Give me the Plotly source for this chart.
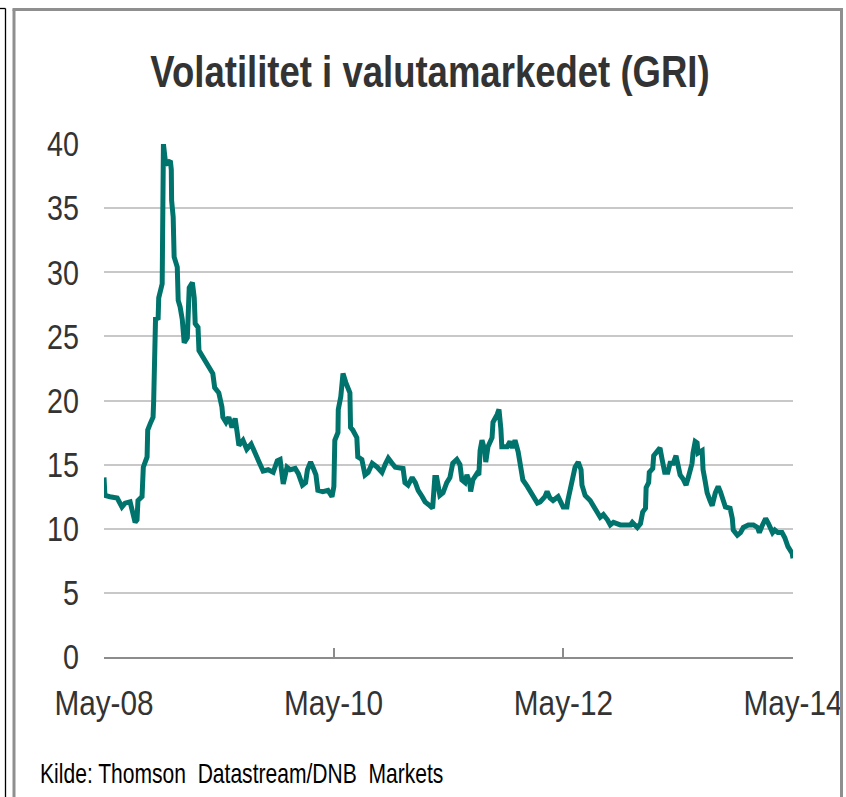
import plotly.graph_objects as go

dates = [
    "2008-05-01", "2008-05-04", "2008-05-20", "2008-06-12", "2008-06-27", "2008-07-07", "2008-07-23",
    "2008-07-29", "2008-08-08", "2008-08-14", "2008-08-17", "2008-08-30", "2008-09-03", "2008-09-15",
    "2008-09-17", "2008-09-25", "2008-10-04", "2008-10-06", "2008-10-08", "2008-10-11", "2008-10-12",
    "2008-10-20", "2008-10-22", "2008-11-02", "2008-11-06", "2008-11-12", "2008-11-18", "2008-11-28",
    "2008-12-01", "2008-12-02", "2008-12-07", "2008-12-10", "2008-12-20", "2008-12-23", "2008-12-29",
    "2009-01-05", "2009-01-08", "2009-01-11", "2009-01-21", "2009-01-24", "2009-01-27", "2009-02-06",
    "2009-02-12", "2009-02-15", "2009-02-24", "2009-02-27", "2009-03-11", "2009-03-27", "2009-04-12",
    "2009-04-18", "2009-05-01", "2009-05-11", "2009-05-14", "2009-05-24", "2009-06-02", "2009-06-12",
    "2009-06-22", "2009-06-28", "2009-07-04", "2009-07-17", "2009-07-29", "2009-08-12", "2009-08-24",
    "2009-09-06", "2009-09-19", "2009-10-05", "2009-10-21", "2009-11-03", "2009-11-12", "2009-11-22",
    "2009-12-04", "2009-12-14", "2009-12-30", "2010-01-09", "2010-01-22", "2010-02-01", "2010-02-07",
    "2010-02-17", "2010-02-26", "2010-03-06", "2010-03-12", "2010-03-28", "2010-04-13", "2010-04-26",
    "2010-05-02", "2010-05-05", "2010-05-15", "2010-05-16", "2010-05-24", "2010-05-27", "2010-05-31",
    "2010-06-09", "2010-06-16", "2010-06-22", "2010-06-24", "2010-07-01", "2010-07-14", "2010-07-17",
    "2010-07-30", "2010-08-09", "2010-08-19", "2010-09-01", "2010-09-17", "2010-10-02", "2010-10-12",
    "2010-10-22", "2010-11-03", "2010-11-13", "2010-12-08", "2010-12-14", "2010-12-24", "2011-01-06",
    "2011-01-16", "2011-01-25", "2011-02-07", "2011-02-16", "2011-03-03", "2011-03-12", "2011-03-19",
    "2011-03-25", "2011-04-04", "2011-04-14", "2011-04-26", "2011-05-06", "2011-05-15", "2011-05-28",
    "2011-06-07", "2011-06-13", "2011-06-23", "2011-06-29", "2011-07-08", "2011-07-11", "2011-07-18",
    "2011-07-31", "2011-08-06", "2011-08-10", "2011-08-16", "2011-08-25", "2011-08-28", "2011-09-04",
    "2011-09-17", "2011-09-20", "2011-10-03", "2011-10-09", "2011-10-15", "2011-10-18", "2011-11-04",
    "2011-11-13", "2011-11-20", "2011-11-29", "2011-12-09", "2011-12-15", "2011-12-24", "2012-01-07",
    "2012-01-16", "2012-01-26", "2012-02-08", "2012-02-17", "2012-03-03", "2012-03-10", "2012-03-19",
    "2012-03-29", "2012-04-14", "2012-04-30", "2012-05-12", "2012-05-15", "2012-05-28", "2012-06-07",
    "2012-06-17", "2012-06-26", "2012-06-29", "2012-07-09", "2012-07-25", "2012-08-04", "2012-08-16",
    "2012-08-26", "2012-09-05", "2012-09-18", "2012-09-27", "2012-10-07", "2012-10-29", "2012-11-30",
    "2012-12-06", "2012-12-22", "2013-01-01", "2013-01-08", "2013-01-17", "2013-01-19", "2013-01-27",
    "2013-01-29", "2013-02-09", "2013-02-12", "2013-02-24", "2013-03-04", "2013-03-10", "2013-03-19",
    "2013-03-29", "2013-04-05", "2013-04-15", "2013-04-24", "2013-04-30", "2013-05-07", "2013-05-16",
    "2013-05-26", "2013-06-02", "2013-06-14", "2013-06-17", "2013-06-24", "2013-06-30", "2013-07-03",
    "2013-07-16", "2013-07-19", "2013-07-25", "2013-08-01", "2013-08-10", "2013-08-17", "2013-08-27",
    "2013-09-05", "2013-09-12", "2013-09-21", "2013-09-28", "2013-10-13", "2013-10-20", "2013-10-23",
    "2013-11-05", "2013-11-15", "2013-11-24", "2013-12-10", "2013-12-26", "2014-01-08", "2014-01-14",
    "2014-01-24", "2014-02-03", "2014-02-12", "2014-02-25", "2014-03-04", "2014-03-14", "2014-03-27",
    "2014-04-05", "2014-04-15", "2014-04-28", "2014-05-01",
]

gri = [
    14.0, 12.6, 12.5, 12.4, 11.7, 12.0, 12.1,
    11.6, 10.5, 10.7, 12.2, 12.5, 14.8, 15.6,
    17.7, 18.2, 18.7, 20.0, 22.6, 23.7, 26.5,
    26.3, 28.0, 29.1, 40.0, 38.7, 38.5, 38.7,
    38.0, 35.6, 34.3, 31.2, 30.4, 27.8, 27.3,
    26.3, 25.7, 24.5, 24.9, 26.5, 28.8, 29.2,
    28.0, 26.0, 25.7, 23.9, 23.4, 22.9, 22.1,
    21.0, 20.6, 19.5, 18.7, 18.3, 18.7, 17.9,
    18.6, 17.6, 16.5, 16.9, 16.2, 16.6, 15.8,
    15.2, 14.5, 14.6, 14.4, 15.3, 15.4, 13.5,
    14.8, 14.6, 14.7, 14.3, 13.4, 13.6, 14.6,
    15.2, 14.7, 14.2, 13.0, 12.9, 13.0, 12.5,
    13.3, 16.9, 17.5, 19.3, 20.3, 21.6, 22.1,
    21.4, 21.0, 20.6, 17.9, 17.7, 17.1, 15.6,
    15.4, 14.2, 14.4, 15.1, 14.8, 14.4, 15.0,
    15.5, 15.1, 14.8, 14.7, 13.6, 13.4, 14.0,
    13.6, 13.0, 12.5, 12.1, 11.8, 11.6, 14.0,
    14.0, 12.6, 12.8, 13.6, 14.0, 15.1, 15.4,
    15.0, 13.8, 13.6, 14.2, 13.6, 12.9, 13.8,
    14.3, 14.2, 16.1, 16.9, 16.1, 15.2, 16.4,
    17.1, 18.3, 18.9, 19.3, 17.8, 16.4, 16.4,
    16.8, 16.3, 16.9, 16.0, 15.0, 13.8, 13.3,
    12.9, 12.4, 12.0, 12.1, 12.5, 12.9, 12.4,
    12.2, 12.5, 11.7, 11.7, 12.2, 13.9, 14.8,
    15.2, 14.6, 13.4, 12.6, 12.2, 11.7, 11.3,
    10.9, 11.1, 10.7, 10.3, 10.5, 10.3, 10.3,
    10.5, 10.1, 10.4, 11.3, 11.6, 13.2, 13.6,
    14.4, 14.7, 15.7, 16.0, 16.3, 15.5, 14.4,
    14.4, 15.1, 15.1, 15.7, 15.0, 14.2, 13.9,
    13.4, 14.0, 15.1, 15.9, 16.8, 16.7, 15.9,
    16.1, 14.6, 13.8, 12.8, 12.2, 11.8, 12.8,
    13.3, 12.9, 12.2, 11.7, 11.6, 10.8, 9.9,
    9.5, 9.7, 10.1, 10.3, 10.3, 10.1, 9.7,
    10.3, 10.8, 10.4, 9.7, 9.9, 9.7, 9.7,
    9.3, 8.6, 8.1, 7.7,
]

tick_dates = ["2008-05-01", "2010-05-01", "2012-05-01", "2014-05-01"]
tick_labels = ["May-08", "May-10", "May-12", "May-14"]
y_ticks = [0, 5, 10, 15, 20, 25, 30, 35, 40]

title_text = "Volatilitet i valutamarkedet (GRI)"
source_text = "Kilde: Thomson  Datastream/DNB  Markets"

W, H = 846, 797
L, R, T, B = 104, 793, 144, 657  # plot area pixel bounds


def px(xp):
    return (xp - L) / (R - L)


def py(yp):
    return (B - yp) / (B - T)


FONT = "Liberation Sans Narrow, Arial Narrow, Liberation Sans, Arial, sans-serif"

fig = go.Figure()
fig.add_trace(go.Scatter(
    x=dates, y=gri, mode="lines",
    line=dict(color="#00736d", width=5),
    hoverinfo="skip", showlegend=False,
))

shapes = [
    # outer black line
    dict(type="line", xref="paper", yref="paper", x0=px(0), x1=px(5.5), y0=py(8.5), y1=py(8.5),
         line=dict(color="#000000", width=1.3), layer="above"),
    dict(type="line", xref="paper", yref="paper", x0=px(5.5), x1=px(5.5), y0=py(8.5), y1=py(800),
         line=dict(color="#000000", width=1.3), layer="above"),
    # gray frame
    dict(type="line", xref="paper", yref="paper", x0=px(14), x1=px(14), y0=py(9.5), y1=py(800),
         line=dict(color="#8f8f8f", width=3), layer="above"),
    dict(type="line", xref="paper", yref="paper", x0=px(12.5), x1=px(843), y0=py(9.5), y1=py(9.5),
         line=dict(color="#8f8f8f", width=3), layer="above"),
    dict(type="rect", xref="paper", yref="paper", x0=px(843), x1=px(850), y0=py(0), y1=py(800),
         fillcolor="#ffffff", line=dict(width=0), layer="above"),
    dict(type="line", xref="paper", yref="paper", x0=px(841.5), x1=px(841.5), y0=py(8), y1=py(800),
         line=dict(color="#8f8f8f", width=3), layer="above"),
]

fig.update_layout(
    width=W, height=H, autosize=False,
    margin=dict(l=L, r=W - R, t=T, b=H - B, pad=0, autoexpand=False),
    paper_bgcolor="#ffffff", plot_bgcolor="#ffffff",
    font=dict(family=FONT, color="#333333"),
    title=dict(text="<b>" + title_text + "</b>", x=430 / W, xanchor="center",
               y=1 - 72 / H, yanchor="middle", yref="container", automargin=False,
               font=dict(family=FONT, size=44, color="#333333")),
    shapes=shapes,
    annotations=[dict(text=source_text, xref="paper", yref="paper", x=px(38), y=py(774),
                      xanchor="left", yanchor="middle", showarrow=False,
                      font=dict(family=FONT, size=27, color="#000000"))],
    xaxis=dict(type="date", range=[tick_dates[0], tick_dates[-1]],
               tickmode="array", tickvals=tick_dates, ticktext=tick_labels,
               showgrid=False, zeroline=False, automargin=False,
               showline=True, linecolor="#8c8c8c", linewidth=2,
               ticks="inside", ticklen=9, tickwidth=2, tickcolor="#8c8c8c",
               tickfont=dict(family=FONT, size=35, color="#333333"),
               ticklabelstandoff=14, ticklabeloverflow="allow"),
    yaxis=dict(range=[0, 40], tickmode="array", tickvals=y_ticks,
               showgrid=True, gridcolor="#c8c8c8", gridwidth=2, automargin=False,
               zeroline=False, showline=False, ticks="",
               tickfont=dict(family=FONT, size=35, color="#333333"),
               ticklabelstandoff=24),
)

# Page setup: no body margin; narrow the (Arial Narrow-like) text horizontally.
post = """
document.body.style.margin='0';
document.body.style.overflow='hidden';
var gd=document.querySelector('.plotly-graph-div');
function sq(sel,s,mode){
  gd.querySelectorAll(sel).forEach(function(t){
    var bb=t.getBBox();
    var a=mode||t.getAttribute('text-anchor')||'start';
    var ax=a==='end'?bb.x+bb.width:(a==='middle'?bb.x+bb.width/2:bb.x);
    var p=t.getAttribute('transform')||'';
    t.setAttribute('transform',p+' translate('+ax+',0) scale('+s+',1) translate('+(-ax)+',0)');
  });
}
sq('g.xtick text',0.85);
sq('g.ytick text',0.82);
sq('text.gtitle',0.83);
sq('text.annotation-text',0.78,'start');
"""

fig.write_html("out.html", post_script=post,
               config={"responsive": False, "displayModeBar": False, "staticPlot": True})
